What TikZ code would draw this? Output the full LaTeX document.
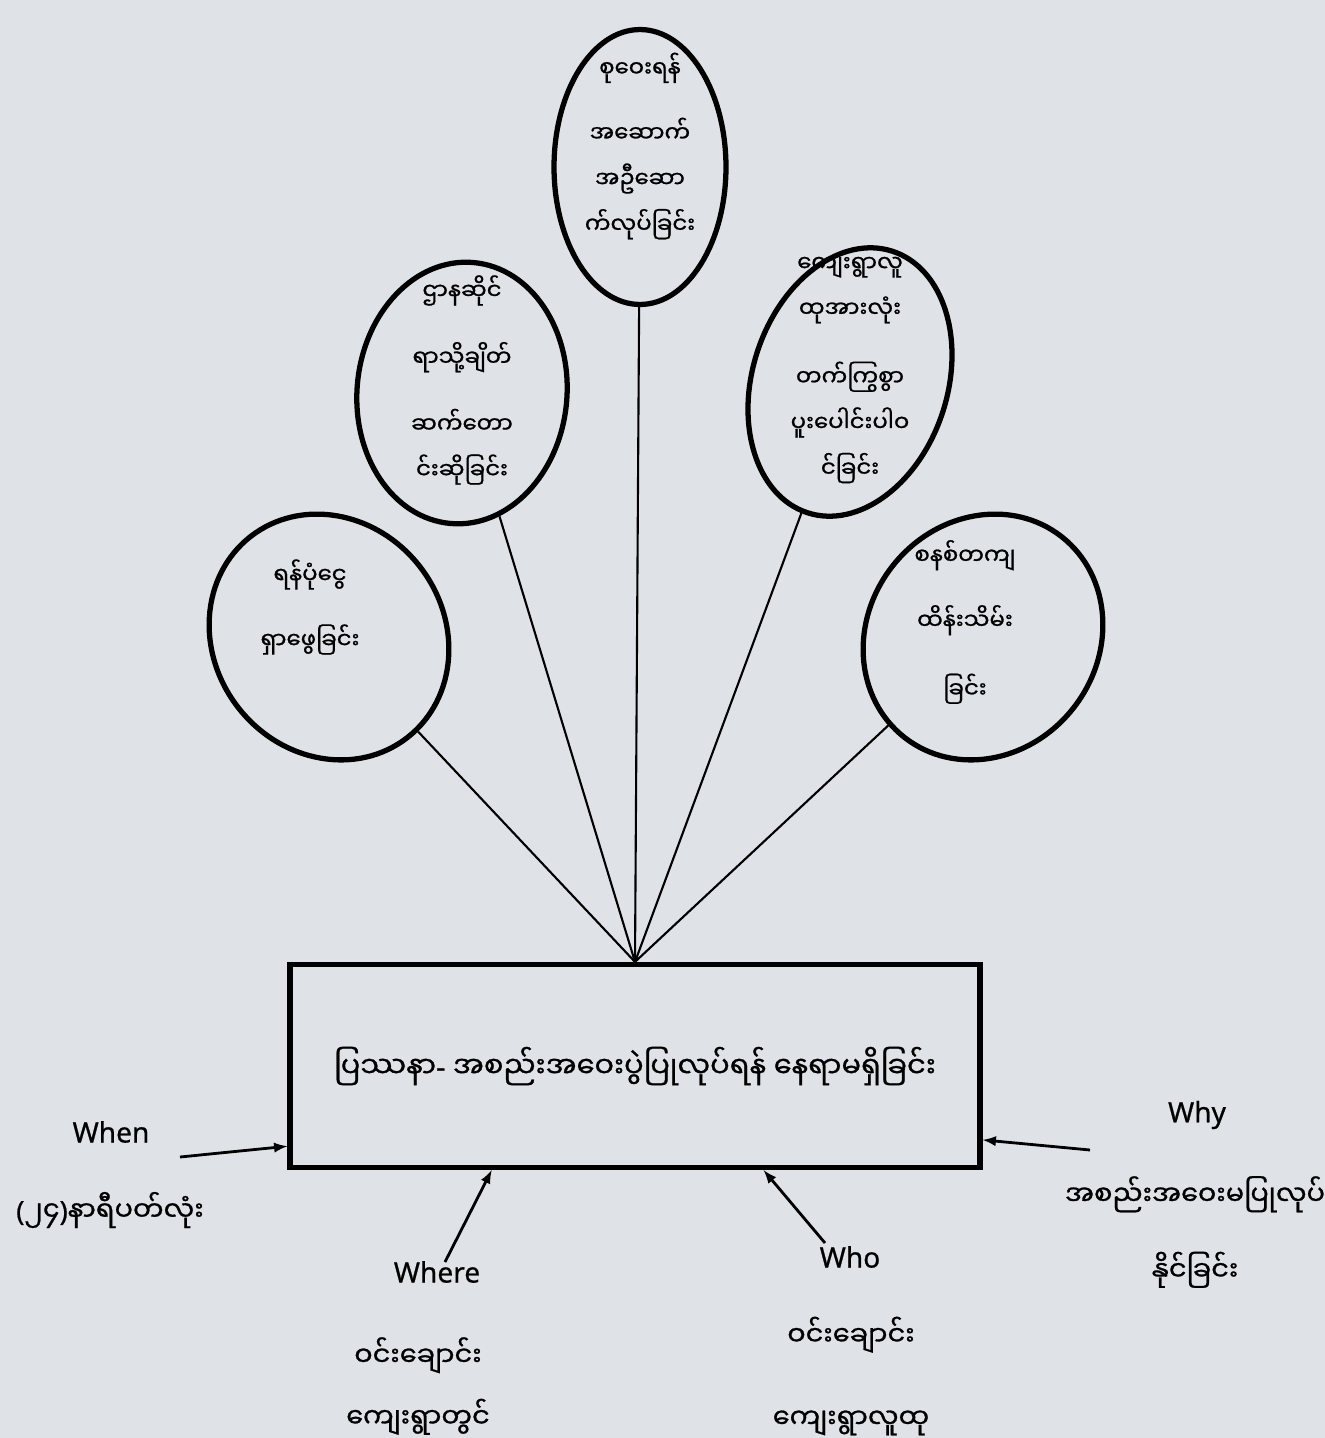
\documentclass[tikz,border=0pt]{standalone}
\usepackage{fontspec}
\setmainfont{Noto Sans}[UprightFeatures={FakeBold=0.7}]
\newfontfamily\mmfont{Noto Sans Myanmar UI}[Script=Myanmar, UprightFeatures={FakeBold=0.9}]
\newcommand{\lat}[1]{{\rmfamily #1}}
\usetikzlibrary{shapes.geometric}
\definecolor{paper}{RGB}{223,227,232}

\begin{document}
\begin{tikzpicture}[x=0.02cm, y=-0.02cm,
	bubble/.style = {draw, ellipse, line width=3pt, inner sep=0pt},
	spoke/.style = {line width=1.2pt},
	mm/.style = {font=\mmfont\fontsize{15.5}{24}\selectfont, align=center, inner sep=0pt},
	mmsmall/.style = {font=\mmfont\fontsize{13}{26}\selectfont, align=center, inner sep=0pt},
	eng/.style = {font=\fontsize{16}{20}\selectfont, inner sep=0pt},
	pointer/.style = {line width=1.6pt, -latex}
	]
	\useasboundingbox (0,0) rectangle (1325,1438);
	\fill[paper] (0,0) rectangle (1325,1438);

	\node[draw, line width=3pt, minimum width=13.8cm, minimum height=4.06cm, mm, font=\mmfont\fontsize{16.5}{20}\selectfont] (problem) at (635,1066)
		{ပြဿနာ\lat{-} အစည်းအဝေးပွဲပြုလုပ်ရန် နေရာမရှိခြင်း};

	\node[bubble, minimum width=3.44cm, minimum height=5.5cm] (hall) at (640,167) {};
	\node[bubble, minimum width=4.2cm, minimum height=5.24cm, rotate=-5] (liaise) at (462,393) {};
	\node[bubble, minimum width=3.9cm, minimum height=5.5cm, rotate=-18] (join) at (850,382) {};
	\node[bubble, minimum width=4.6cm, minimum height=5.1cm, rotate=38] (funds) at (329,637) {};
	\node[bubble, minimum width=4.6cm, minimum height=5.1cm, rotate=-38] (upkeep) at (983,637) {};

	\node[mmsmall] (halltext) at (640,146) {စုဝေးရန်\\[11pt]အဆောက်\\အဦဆော\\က်လုပ်ခြင်း};
	\node[mmsmall] (liaisetext) at (462,380) {ဌာနဆိုင်\\[12pt]ရာသို့ချိတ်\\[12pt]ဆက်တော\\င်းဆိုခြင်း};
	\node[mmsmall] (jointext) at (850,370) {ကျေးရွာလူ\\ထုအားလုံး\\[13pt]တက်ကြွစွာ\\ပူးပေါင်းပါဝ\\င်ခြင်း};
	\node[mmsmall] (fundstext) at (310,607) {ရန်ပုံငွေ\\[11pt]ရှာဖွေခြင်း};
	\node[mmsmall] (upkeeptext) at (965,622) {စနစ်တကျ\\[11pt]ထိန်းသိမ်း\\[13pt]ခြင်း};

	\foreach \b in {hall, liaise, join, funds, upkeep}
		\draw[spoke] (problem.north) -- (\b);

	\node[eng] (when) at (111,1132) {When};
	\node[mm] (whentext) at (110,1210) {\lat{(}၂၄\lat{)}နာရီပတ်လုံး};
	\node[eng] (why) at (1197,1115) {Why};
	\node[mm] (whytext) at (1195,1232) {အစည်းအဝေးမပြုလုပ်\\[19pt]နိုင်ခြင်း};
	\node[eng] (where) at (437,1272) {Where};
	\node[mm] (wheretext) at (418,1386) {ဝင်းချောင်း\\[11pt]ကျေးရွာတွင်};
	\node[eng] (who) at (850,1257) {Who};
	\node[mm] (whotext) at (851,1376) {ဝင်းချောင်း\\[23pt]ကျေးရွာလူထု};

	\coordinate (whentail) at (180,1157);
	\coordinate (whytail) at (1090,1150);
	\coordinate (wheretail) at (445,1262);
	\coordinate (whotail) at (825,1243);

	\draw[pointer] (whentail) -- (problem.193);
	\draw[pointer] (whytail) -- (problem.348);
	\draw[pointer] (wheretail) -- (problem.216.5);
	\draw[pointer] (whotail) -- (problem.321.8);
\end{tikzpicture}
\end{document}
